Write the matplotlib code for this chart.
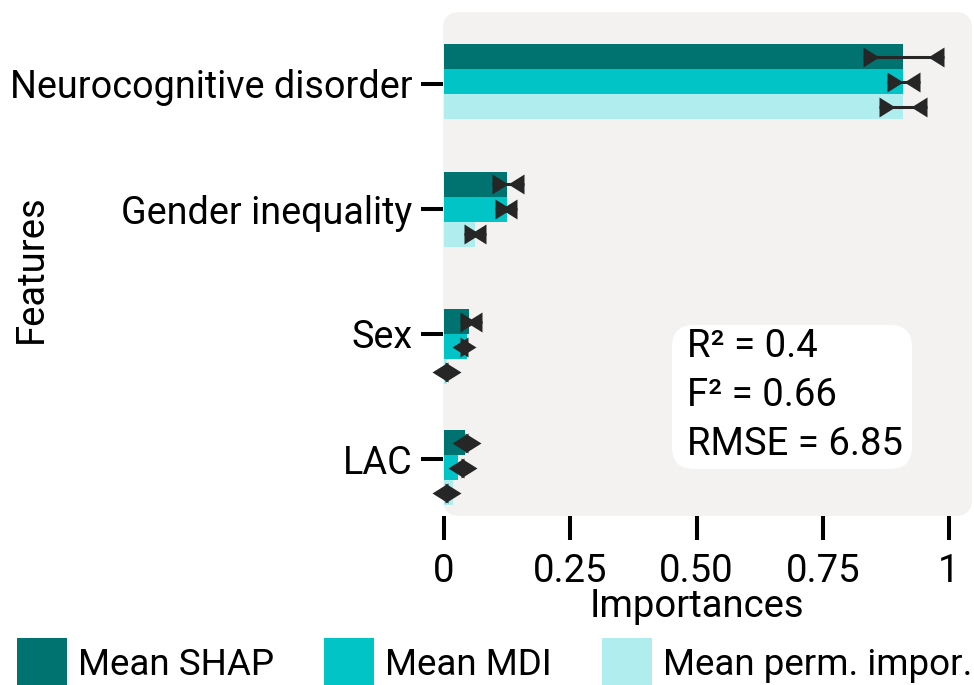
import matplotlib
matplotlib.use("Agg")
import matplotlib.pyplot as plt
import matplotlib.patches as mpatches
from matplotlib.path import Path
from matplotlib.markers import MarkerStyle
from matplotlib.transforms import IdentityTransform
import numpy as np

# ---------------- data ----------------
features = ["Neurocognitive disorder", "Gender inequality", "Sex", "LAC"]

shap_mean = [0.909, 0.125, 0.050, 0.042]
shap_lo   = [0.830, 0.095, 0.032, 0.041]
shap_hi   = [0.991, 0.159, 0.075, 0.047]

mdi_mean  = [0.909, 0.125, 0.045, 0.028]
mdi_lo    = [0.878, 0.101, 0.032, 0.033]
mdi_hi    = [0.943, 0.145, 0.047, 0.039]

perm_mean = [0.909, 0.061, 0.006, 0.018]
perm_lo   = [0.862, 0.040, 0.0016, 0.0016]
perm_hi   = [0.956, 0.083, 0.0075, 0.0075]

series_names = ["Mean SHAP", "Mean MDI", "Mean perm. impor."]
metric_names = ["R²", "F²", "RMSE"]
metric_values = ["0.4", "0.66", "6.85"]

xtick_vals = [0, 0.25, 0.5, 0.75, 1]
xtick_labels = ["0", "0.25", "0.50", "0.75", "1"]

# ---------------- style ----------------
plt.rcParams['font.family'] = ['Roboto', 'DejaVu Sans']
FS = 27.5
YFS = 27.2
LFS = 26.5
colors = ["#007370", "#00c4c6", "#b0edee"]
bg_color = "#f4f2f0"
err_color = "#262626"
group_shift = [-0.02, 0.0, 0.1, 0.07]
bar_h = 0.2

W, H, DPI = 9.74, 6.85, 100
fig = plt.figure(figsize=(W, H), dpi=DPI)

# axes in pixel layout
ax_l, ax_r, ax_t, ax_b = 443, 951, 12, 516
ax = fig.add_axes([ax_l / 974, 1 - ax_b / 685, (ax_r - ax_l) / 974, (ax_b - ax_t) / 685])
ax.set_facecolor("none")

# rounded background patch (figure inches)
bg_right = 972
bg = mpatches.FancyBboxPatch((ax_l / DPI, (685 - ax_b) / DPI),
                             (bg_right - ax_l) / DPI, (ax_b - ax_t) / DPI,
                             boxstyle="round,pad=0,rounding_size=0.17",
                             transform=fig.dpi_scale_trans, fc=bg_color, ec="none",
                             zorder=-5)
fig.add_artist(bg)

# custom caret markers (base at anchor point)
tri_w, tri_h = 16, 10
right_caret = MarkerStyle(Path([(0, -tri_h), (tri_w, 0), (0, tri_h), (0, -tri_h)],
                               [Path.MOVETO, Path.LINETO, Path.LINETO, Path.CLOSEPOLY]))
left_caret = MarkerStyle(Path([(0, -tri_h), (-tri_w, 0), (0, tri_h), (0, -tri_h)],
                              [Path.MOVETO, Path.LINETO, Path.LINETO, Path.CLOSEPOLY]))
ms = 2 * tri_w * 72 / DPI

y = np.arange(len(features)) + np.array(group_shift)
series = [(shap_mean, shap_lo, shap_hi), (mdi_mean, mdi_lo, mdi_hi), (perm_mean, perm_lo, perm_hi)]
handles = []
for k, (mean, lo, hi) in enumerate(series):
    yy = y + (k - 1) * bar_h
    b = ax.barh(yy, mean, height=bar_h, color=colors[k], label=series_names[k], zorder=2)
    handles.append(b)
    ax.hlines(yy, lo, hi, color=err_color, lw=2.2, zorder=3, clip_on=False)
    ax.plot(lo, yy, linestyle="none", marker=right_caret, markersize=ms,
            color=err_color, markeredgewidth=0, zorder=4, clip_on=False)
    ax.plot(hi, yy, linestyle="none", marker=left_caret, markersize=ms,
            color=err_color, markeredgewidth=0, zorder=4, clip_on=False)

ax.set_xlim(-1 / 505, (ax_r - 444) / 505)
ax.set_ylim((ax_b - 84) / 125, (ax_t - 84) / 125)

ax.set_yticks(np.arange(len(features)))
ax.set_yticklabels(features, fontsize=YFS)
ax.set_xticks(xtick_vals)
ax.set_xticklabels(xtick_labels, fontsize=FS)
ax.tick_params(axis="y", length=15.8, width=2.9, pad=6, color="black")
ax.tick_params(axis="x", length=17, width=2.9, pad=10, color="black")
for s in ax.spines.values():
    s.set_visible(False)

ax.set_xlabel("Importances", fontsize=FS, labelpad=-2)
ax.set_ylabel("Features", fontsize=FS)
ax.yaxis.set_label_coords(-0.774, 0.49)

# metrics box: rounded white box in display pixels, text on top
(bx0, by0), (bx1, by1) = ax.transData.transform([(0.4515, 3.08), (0.9267, 1.928)])
box = mpatches.FancyBboxPatch((bx0, by0), bx1 - bx0, by1 - by0,
                              boxstyle="round,pad=0,rounding_size=22",
                              transform=IdentityTransform(), fc="white", ec="none",
                              zorder=5)
ax.add_artist(box)
txt = "\n".join(f"{n} = {v}" for n, v in zip(metric_names, metric_values))
ax.text(0.481, 2.494, txt, fontsize=FS, ha="left", va="center", linespacing=1.42,
        zorder=6)

fig.legend(handles=handles, loc="upper left", bbox_to_anchor=(17 / 974, 1 - 638 / 685),
           ncol=3, frameon=False, fontsize=LFS, borderpad=0, borderaxespad=0,
           handlelength=1.36, handleheight=1.714, handletextpad=0.3, columnspacing=1.36)

fig.savefig("out.png", dpi=DPI)
